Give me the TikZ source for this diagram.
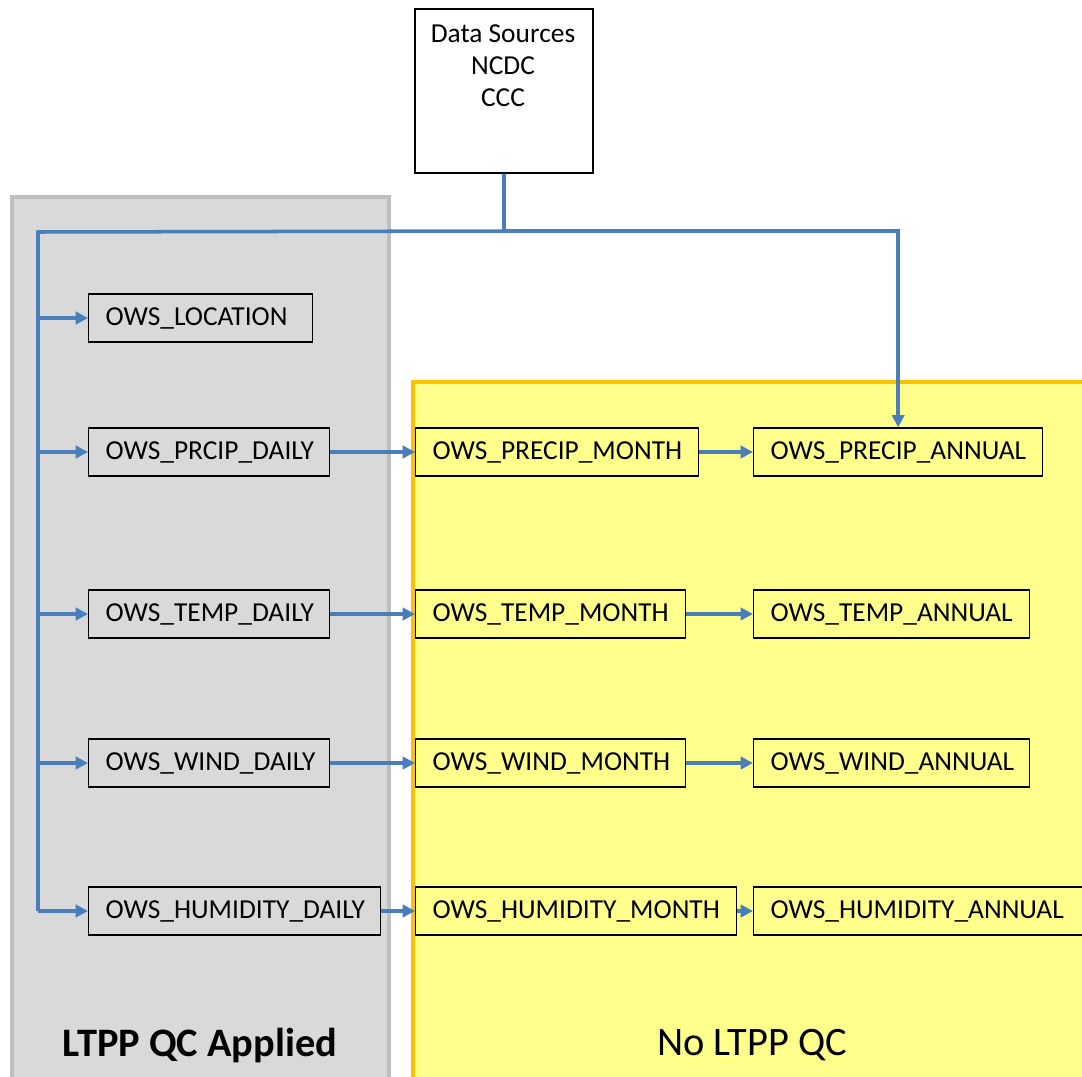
\documentclass[tikz,border=0pt]{standalone}
\usepackage{fontspec}
\setmainfont{Carlito}
\usepackage{tikz}
\usetikzlibrary{positioning, arrows.meta, calc}
\definecolor{ows-blue}{HTML}{4A7EBB}
\definecolor{ows-gray}{HTML}{D9D9D9}
\definecolor{ows-grayline}{HTML}{BFBFBF}
\definecolor{ows-yellow}{HTML}{FFFF8C}
\definecolor{ows-gold}{HTML}{FFC000}

\begin{document}
\begin{tikzpicture}[
    x=0.02cm, y=-0.02cm,
    tbl/.style={draw, line width=0.8pt, anchor=west, minimum height=0.96cm,
                font=\fontsize{15.6}{18}\selectfont,
                inner ysep=0pt, inner xsep=0.34cm, text width=#1, align=left},
    arr/.style={-{Triangle[length=7pt, width=7pt]}, line width=2pt, ows-blue},
    ln/.style={line width=2pt, ows-blue},
    panel/.style={line width=2.3pt},
]
    \clip (0,0) rectangle (1082,1076);
    \fill[white] (0,0) rectangle (1082,1076);

    % panels
    \draw[panel, draw=ows-grayline, fill=ows-gray] (12,197) rectangle (389,1090);
    \draw[panel, draw=ows-gold, fill=ows-yellow] (413,382) rectangle (1095,1090);
    \node[font=\fontsize{23}{27}\selectfont\bfseries] (qcyes) at (200,1045) {LTPP QC Applied};
    \node[font=\fontsize{23}{27}\selectfont] (qcno) at (752,1045) {No LTPP QC};

    % source
    \node[draw, line width=0.8pt, fill=white, minimum width=3.56cm, minimum height=3.28cm] (src) at (504,91) {};
    \node[anchor=north, align=center, font=\fontsize{15.6}{18.2}\selectfont, inner sep=0pt] (srctxt) at (503,24)
        {Data Sources\\NCDC\\CCC};

    % daily tables
    \node[tbl=3.80cm, fill=ows-gray] (loc) at (88,318) {\mbox{OWS\_LOCATION}};
    \node[tbl=4.14cm, fill=ows-gray] (prd) at (88,452) {\mbox{OWS\_PRCIP\_DAILY}};
    \node[tbl=4.14cm, fill=ows-gray] (tmd) at (88,614) {\mbox{OWS\_TEMP\_DAILY}};
    \node[tbl=4.14cm, fill=ows-gray] (wnd) at (88,763) {\mbox{OWS\_WIND\_DAILY}};
    \node[tbl=5.16cm, fill=ows-gray] (hmd) at (88,911) {\mbox{OWS\_HUMIDITY\_DAILY}};

    % monthly tables
    \node[tbl=4.98cm, fill=ows-yellow] (prm) at (415,452) {\mbox{OWS\_PRECIP\_MONTH}};
    \node[tbl=4.72cm, fill=ows-yellow] (tmm) at (415,614) {\mbox{OWS\_TEMP\_MONTH}};
    \node[tbl=4.72cm, fill=ows-yellow] (wnm) at (415,763) {\mbox{OWS\_WIND\_MONTH}};
    \node[tbl=5.74cm, fill=ows-yellow] (hmm) at (415,911) {\mbox{OWS\_HUMIDITY\_MONTH}};

    % annual tables
    \node[tbl=5.10cm, fill=ows-yellow] (pra) at (753,452) {\mbox{OWS\_PRECIP\_ANNUAL}};
    \node[tbl=4.84cm, fill=ows-yellow] (tma) at (753,614) {\mbox{OWS\_TEMP\_ANNUAL}};
    \node[tbl=4.84cm, fill=ows-yellow] (wna) at (753,763) {\mbox{OWS\_WIND\_ANNUAL}};
    \node[tbl=6.12cm, fill=ows-yellow] (hma) at (753,911) {\mbox{OWS\_HUMIDITY\_ANNUAL}};

    % feed lines
    \coordinate (jn) at (504,231);
    \coordinate (tl) at (38,232);
    \coordinate (tb) at (38,911);
    \draw[ln] (src.south) -- (jn) -- (tl) -- (tb);
    \draw[arr] (jn) -| (pra.north);
    \foreach \t in {loc, prd, tmd, wnd, hmd}
        \draw[arr] (\t.west -| tl) -- (\t.west);

    % rollups
    \draw[arr] (prd) -- (prm);
    \draw[arr] (prm) -- (pra);
    \draw[arr] (tmd) -- (tmm);
    \draw[arr] (tmm) -- (tma);
    \draw[arr] (wnd) -- (wnm);
    \draw[arr] (wnm) -- (wna);
    \draw[arr] (hmd) -- (hmm);
    \draw[arr] (hmm) -- (hma);
\end{tikzpicture}
\end{document}
